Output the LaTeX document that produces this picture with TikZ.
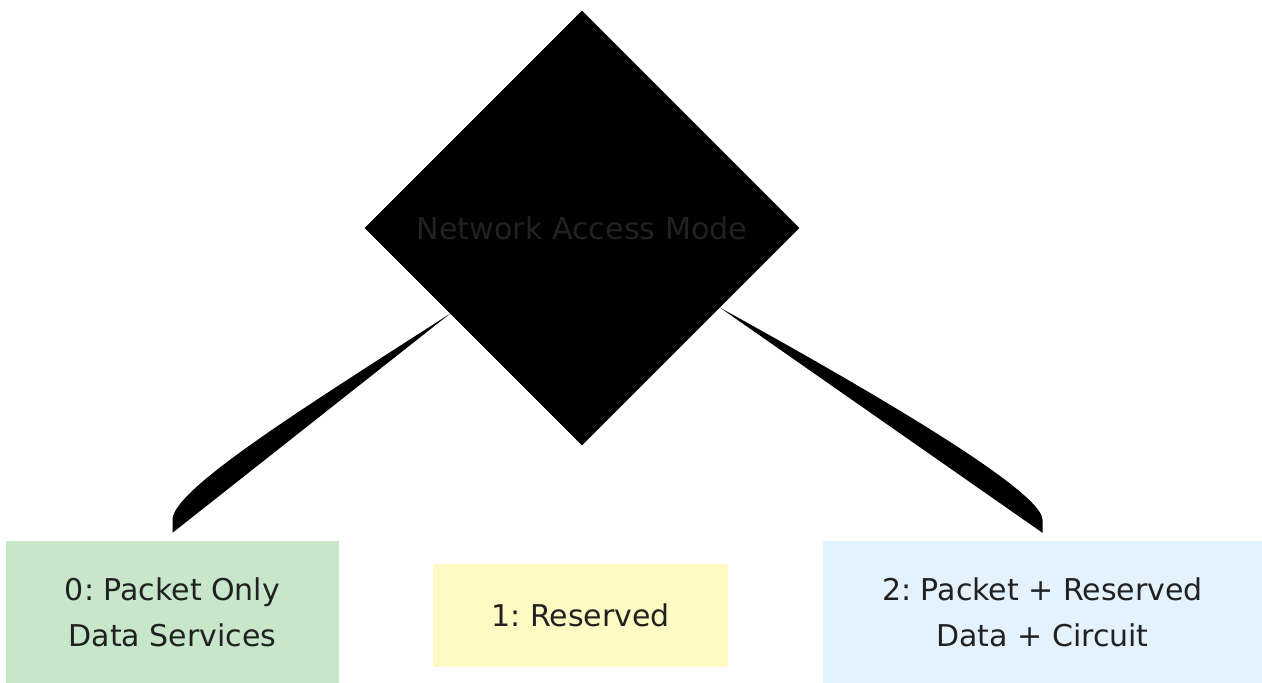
\documentclass[tikz,border=0pt]{standalone}
\usepackage{fontspec}
\setmainfont{DejaVu Sans}
\usetikzlibrary{shapes.geometric,calc}
\frenchspacing
\definecolor{txt}{HTML}{212121}
\definecolor{gfill}{HTML}{C8E6C9}
\definecolor{yfill}{HTML}{FFF9C4}
\definecolor{bfill}{HTML}{E3F2FD}
\tikzset{
  decision/.style={diamond, fill=black, draw=none, minimum width=435pt, minimum height=435pt, inner sep=0pt, text=txt, font=\fontsize{30.2}{36}\selectfont},
  valbox/.style={rectangle, draw=none, inner sep=0pt, text=txt, align=center, font=\fontsize{30}{46}\selectfont},
  wedge/.style={fill=black, draw=none}
}
\begin{document}
\frenchspacing
\begin{tikzpicture}[x=1pt,y=-1pt]
\useasboundingbox (0,0) rectangle (1262,683);
\node[decision] (d) at (582,228) {Network Access Mode};
\node[valbox, fill=gfill, minimum width=333pt, minimum height=142pt] (b0) at (172.5,612) {0: Packet Only\\Data Services};
\node[valbox, fill=yfill, minimum width=295pt, minimum height=103pt] (b1) at (580.5,615.5) {1: Reserved};
\node[valbox, fill=bfill, minimum width=439pt, minimum height=142pt] (b2) at (1042.5,612) {2: Packet + Reserved\\Data + Circuit};
\coordinate (e0) at ($(b0.north)+(0,-8)$);
\coordinate (e2) at ($(b2.north)+(0,-8)$);
\fill[wedge] (d.213) -- (e0) -- ($(e0)+(0,-13)$) .. controls ($(e0)+(0,-43)$) and ($(e0)+(128,-123)$) .. (d.213) -- cycle;
\fill[wedge] (d.-30) -- (e2) -- ($(e2)+(0,-13)$) .. controls ($(e2)+(0,-40)$) and ($(e2)+(-150,-130)$) .. (d.-30) -- cycle;
\end{tikzpicture}
\end{document}
